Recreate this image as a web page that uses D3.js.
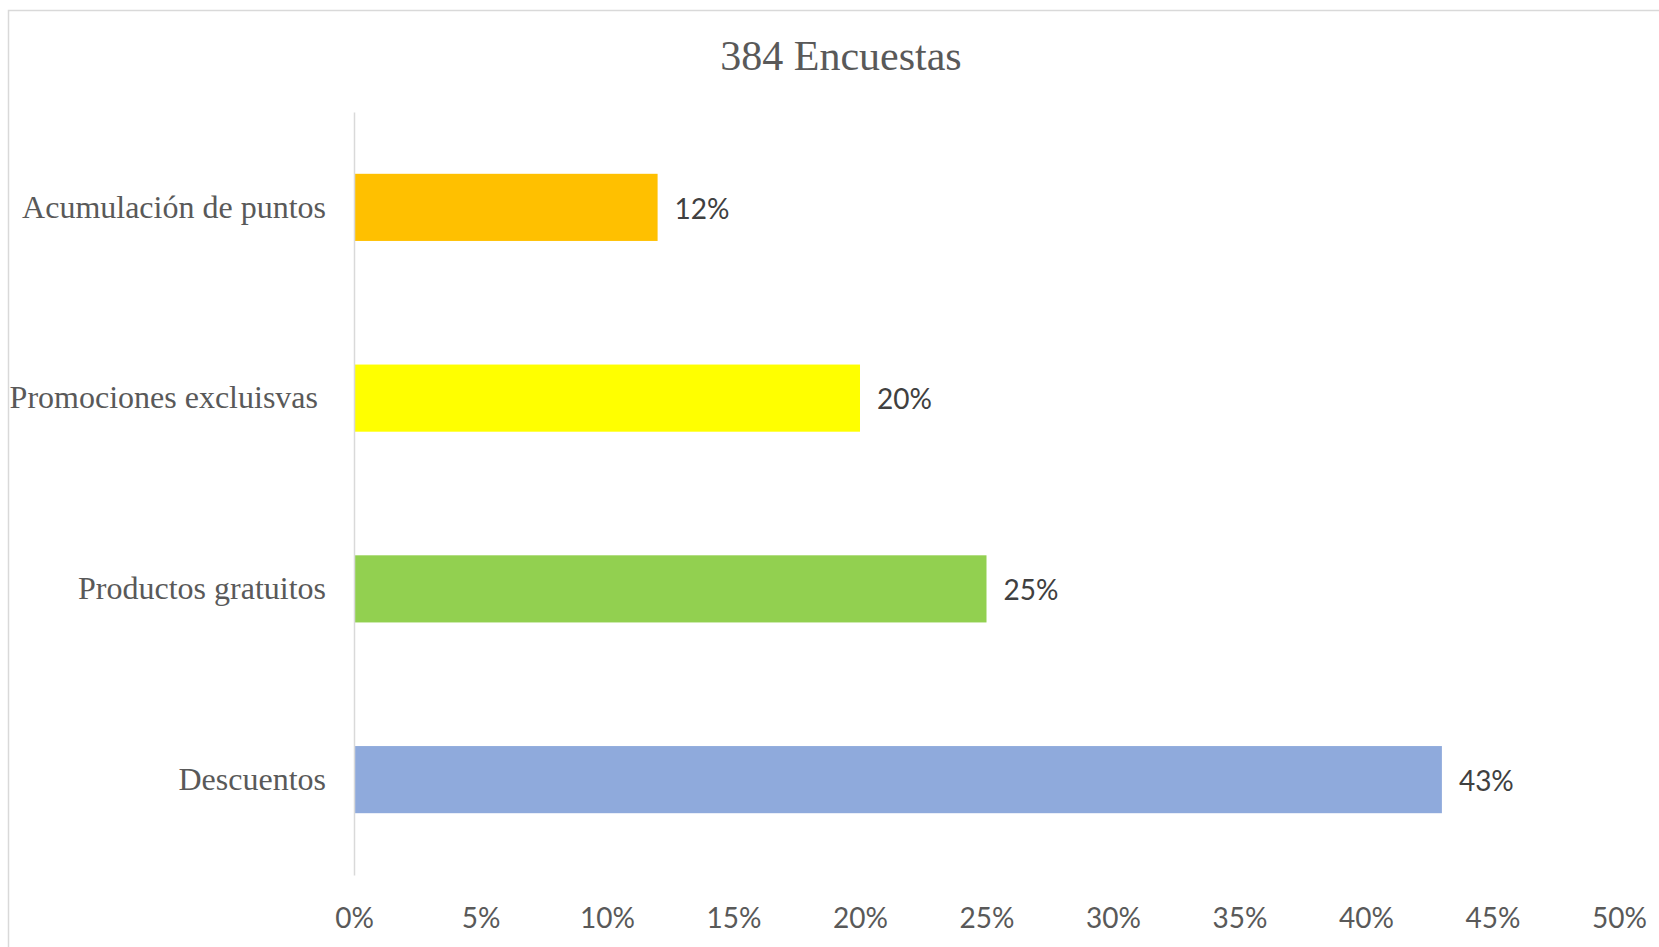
<!DOCTYPE html>
<html>
<head>
<meta charset="utf-8">
<script src="https://cdn.jsdelivr.net/npm/d3@7"></script>
<style>
  html, body { margin: 0; padding: 0; background: #fff; }
  svg { display: block; }
</style>
</head>
<body>
<svg id="chart" width="1659" height="947"></svg>
<script>
// Survey results: preferred type of incentive
const title = "384 Encuestas";
const categories = ["Acumulación de puntos", "Promociones excluisvas ", "Productos gratuitos", "Descuentos"];
const values = [0.12, 0.20, 0.25, 0.43];
const colors = ["#FFC000", "#FFFF00", "#92D050", "#8FAADC"];
const xTicks = [0, 0.05, 0.10, 0.15, 0.20, 0.25, 0.30, 0.35, 0.40, 0.45, 0.50];

const svg = d3.select("#chart");

// chart frame
svg.append("rect")
  .attr("x", 8.5).attr("y", 10.5)
  .attr("width", 1700).attr("height", 1000)
  .attr("fill", "none")
  .attr("stroke", "#d9d9d9")
  .attr("stroke-width", 1.5);

const plot = { left: 354, right: 1619, top: 112, bottom: 875 };

const x = d3.scaleLinear().domain([0, 0.5]).range([plot.left, plot.right]);
const y = d3.scaleBand()
  .domain(categories)
  .range([plot.top, plot.bottom])
  .paddingInner(0.648)
  .paddingOuter(0.324);

// title
svg.append("text")
  .attr("x", 841).attr("y", 70)
  .attr("text-anchor", "middle")
  .attr("font-family", "'Liberation Serif', 'Times New Roman', serif")
  .attr("font-size", 42)
  .attr("fill", "#595959")
  .text(title);

// bars
svg.append("g").selectAll("rect")
  .data(categories)
  .join("rect")
  .attr("x", x(0))
  .attr("y", d => y(d))
  .attr("width", (d, i) => x(values[i]) - x(0))
  .attr("height", y.bandwidth())
  .attr("fill", (d, i) => colors[i]);

// value labels
svg.append("g").selectAll("text")
  .data(categories)
  .join("text")
  .attr("x", (d, i) => x(values[i]) + 17)
  .attr("y", d => y(d) + y.bandwidth() / 2)
  .attr("dy", "0.4em")
  .attr("font-family", "Lato, 'Open Sans', sans-serif")
  .attr("font-size", 28)
  .attr("fill", "#404040")
  .text((d, i) => Math.round(values[i] * 100) + "%");

// category axis
const yAxis = svg.append("g")
  .attr("transform", `translate(${plot.left},0)`)
  .call(d3.axisLeft(y).tickSize(0).tickSizeOuter(0).tickPadding(28));
yAxis.select(".domain")
  .attr("stroke", "#d9d9d9")
  .attr("stroke-width", 1.5);
yAxis.selectAll(".tick text")
  .attr("font-family", "'Liberation Serif', 'Times New Roman', serif")
  .attr("font-size", 32)
  .attr("fill", "#595959")
  .attr("dy", "0.32em")
  .attr("xml:space", "preserve")
  .style("white-space", "pre");

// value axis (labels only)
const xAxis = svg.append("g")
  .attr("transform", `translate(0,${plot.bottom})`)
  .call(d3.axisBottom(x).tickValues(xTicks).tickSize(0).tickPadding(0)
    .tickFormat(d => Math.round(d * 100) + "%"));
xAxis.select(".domain").remove();
xAxis.selectAll(".tick text")
  .attr("y", 53)
  .attr("dy", 0)
  .attr("font-family", "Lato, 'Open Sans', sans-serif")
  .attr("font-size", 28)
  .attr("fill", "#595959");
</script>
</body>
</html>
